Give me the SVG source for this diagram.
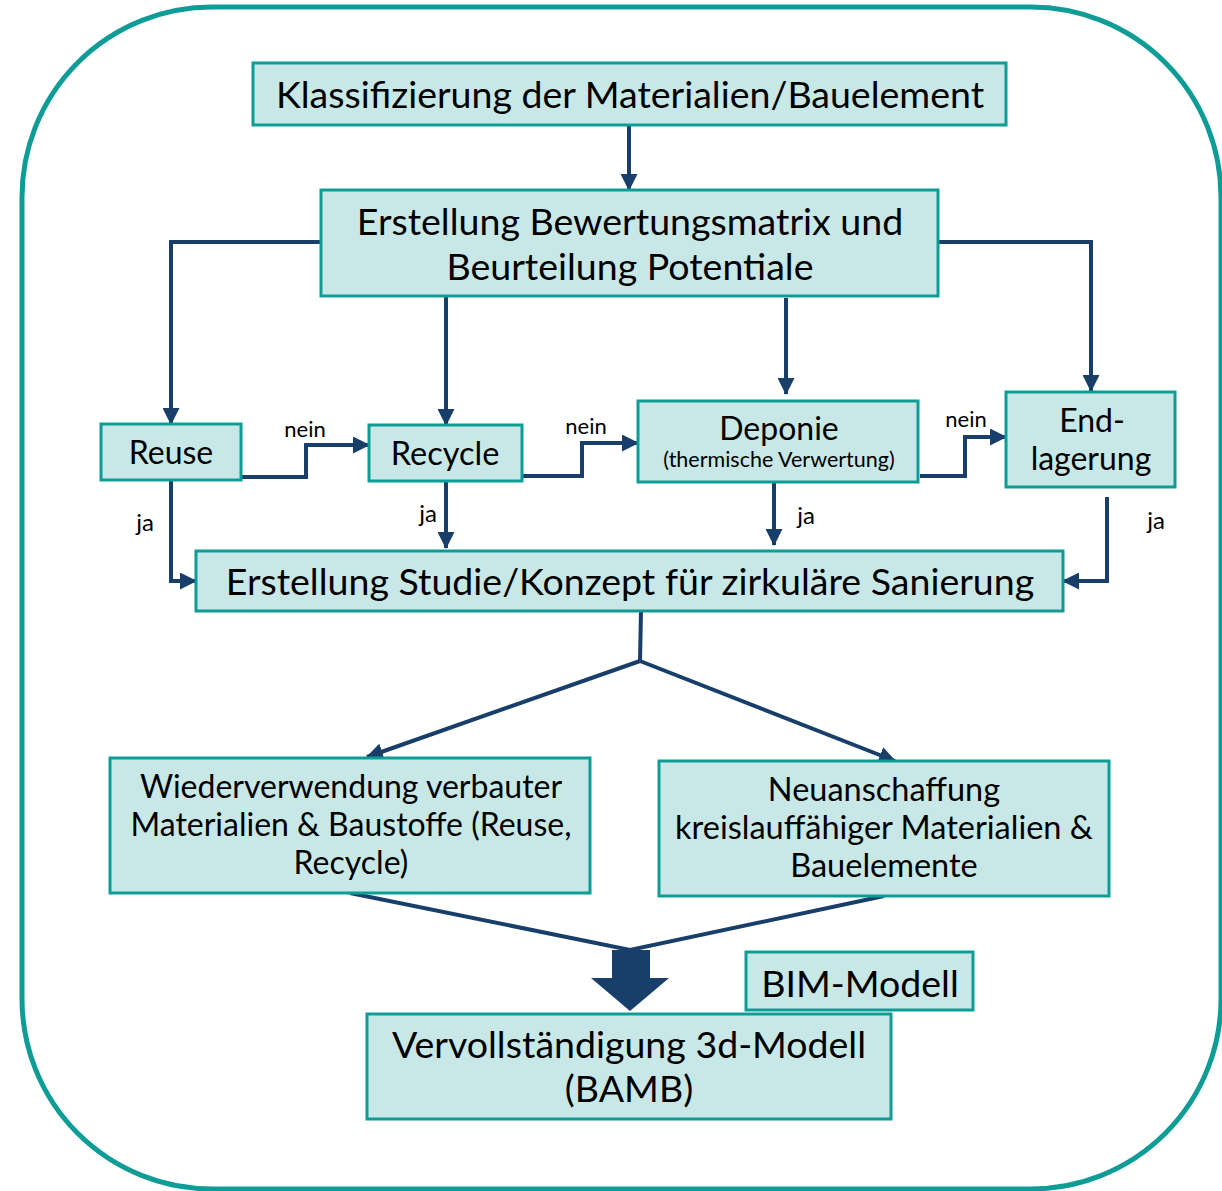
<svg xmlns="http://www.w3.org/2000/svg" width="1222" height="1191" viewBox="0 0 1222 1191">
<style>
.box{fill:#c8e8e7;stroke:#0e9c97;stroke-width:3}
.t{font-family:Lato,"Open Sans","Liberation Sans",sans-serif;fill:#000;text-anchor:middle}
.c{fill:none;stroke:#173f6a;stroke-width:4}
.lbl{font-family:Lato,"Open Sans","Liberation Sans",sans-serif;fill:#000;text-anchor:middle;font-size:22px}
.ja{font-size:24px}
</style>
<defs>
<marker id="ah" markerUnits="userSpaceOnUse" markerWidth="17" markerHeight="17" refX="16" refY="8.5" orient="auto">
<path d="M0,0 L17,8.5 L0,17 z" fill="#173f6a"/>
</marker>
</defs>
<rect x="0" y="0" width="1222" height="1191" fill="#fff"/>
<rect id="frame" x="22" y="7" width="1199" height="1182" rx="190" ry="190" fill="none" stroke="#0e9c97" stroke-width="5"/>

<g id="connectors">
<path class="c" d="M629,125 V190" marker-end="url(#ah)"/>
<path class="c" d="M321,242 H171 V424" marker-end="url(#ah)"/>
<path class="c" d="M446,296 V425" marker-end="url(#ah)"/>
<path class="c" d="M786,298 V394" marker-end="url(#ah)"/>
<path class="c" d="M938,242 H1091 V391" marker-end="url(#ah)"/>
<path class="c" d="M241,477 H306 V445 H369" marker-end="url(#ah)"/>
<path class="c" d="M522,476 H582 V443 H638" marker-end="url(#ah)"/>
<path class="c" d="M920,476 H965 V437 H1006" marker-end="url(#ah)"/>
<path class="c" d="M171,476 V581 H196" marker-end="url(#ah)"/>
<path class="c" d="M446,481 V548" marker-end="url(#ah)"/>
<path class="c" d="M774,480 V545" marker-end="url(#ah)"/>
<path class="c" d="M1107,497 V581 H1063" marker-end="url(#ah)"/>
<path class="c" d="M641,611 L640,661"/>
<path class="c" d="M640,661 L367,757" marker-end="url(#ah)"/>
<path class="c" d="M640,661 L895,761" marker-end="url(#ah)"/>
<path class="c" d="M350,893 L630,950 L884,896"/>
<path d="M612,950 H650 V978 H669 L630,1011 L591,978 H612 z" fill="#173f6a"/>
<text class="lbl" x="305" y="437">nein</text>
<text class="lbl" x="586" y="434">nein</text>
<text class="lbl" x="966" y="427">nein</text>
<text class="lbl ja" x="145" y="531">ja</text>
<text class="lbl ja" x="428" y="522">ja</text>
<text class="lbl ja" x="806" y="524">ja</text>
<text class="lbl ja" x="1156" y="529">ja</text>
</g>

<g id="n-klass">
<rect class="box" x="253" y="63" width="753" height="62"/>
<text class="t" x="630" y="108" font-size="37.5">Klassifizierung der Materialien/Bauelement</text>
</g>
<g id="n-bewertung">
<rect class="box" x="321" y="190" width="617" height="106"/>
<text class="t" x="630" y="235" font-size="37.5">Erstellung Bewertungsmatrix und</text>
<text class="t" x="630" y="280" font-size="37.5">Beurteilung Potentiale</text>
</g>
<g id="n-reuse">
<rect class="box" x="101" y="424" width="140" height="56"/>
<text class="t" x="171" y="464" font-size="32">Reuse</text>
</g>
<g id="n-recycle">
<rect class="box" x="369" y="425" width="153" height="56"/>
<text class="t" x="445" y="465" font-size="32.5">Recycle</text>
</g>
<g id="n-deponie">
<rect class="box" x="638" y="401" width="280" height="81"/>
<text class="t" x="779" y="440" font-size="32">Deponie</text>
<text class="t" x="779" y="467" font-size="21.5">(thermische Verwertung)</text>
</g>
<g id="n-endlagerung">
<rect class="box" x="1006" y="392" width="169" height="95"/>
<text class="t" x="1092" y="432" font-size="32">End-</text>
<text class="t" x="1091" y="470" font-size="32">lagerung</text>
</g>
<g id="n-studie">
<rect class="box" x="196" y="551" width="867" height="60"/>
<text class="t" x="630" y="595" font-size="37.5">Erstellung Studie/Konzept für zirkuläre Sanierung</text>
</g>
<g id="n-wiederverwendung">
<rect class="box" x="110" y="758" width="480" height="135"/>
<text class="t" x="351" y="798" font-size="32">Wiederverwendung verbauter</text>
<text class="t" x="351" y="836" font-size="32">Materialien &amp; Baustoffe (Reuse,</text>
<text class="t" x="351" y="874" font-size="32">Recycle)</text>
</g>
<g id="n-neuanschaffung">
<rect class="box" x="659" y="761" width="450" height="135"/>
<text class="t" x="884" y="801" font-size="32.5">Neuanschaffung</text>
<text class="t" x="884" y="839" font-size="32.5">kreislauffähiger Materialien &amp;</text>
<text class="t" x="884" y="877" font-size="32.5">Bauelemente</text>
</g>
<g id="n-bim">
<rect class="box" x="746" y="952" width="227" height="58"/>
<text class="t" x="860" y="997" font-size="37.5">BIM-Modell</text>
</g>
<g id="n-vervollstaendigung">
<rect class="box" x="367" y="1014" width="524" height="105"/>
<text class="t" x="629" y="1058" font-size="37.5">Vervollständigung 3d-Modell</text>
<text class="t" x="629" y="1102" font-size="37.5">(BAMB)</text>
</g>
</svg>
